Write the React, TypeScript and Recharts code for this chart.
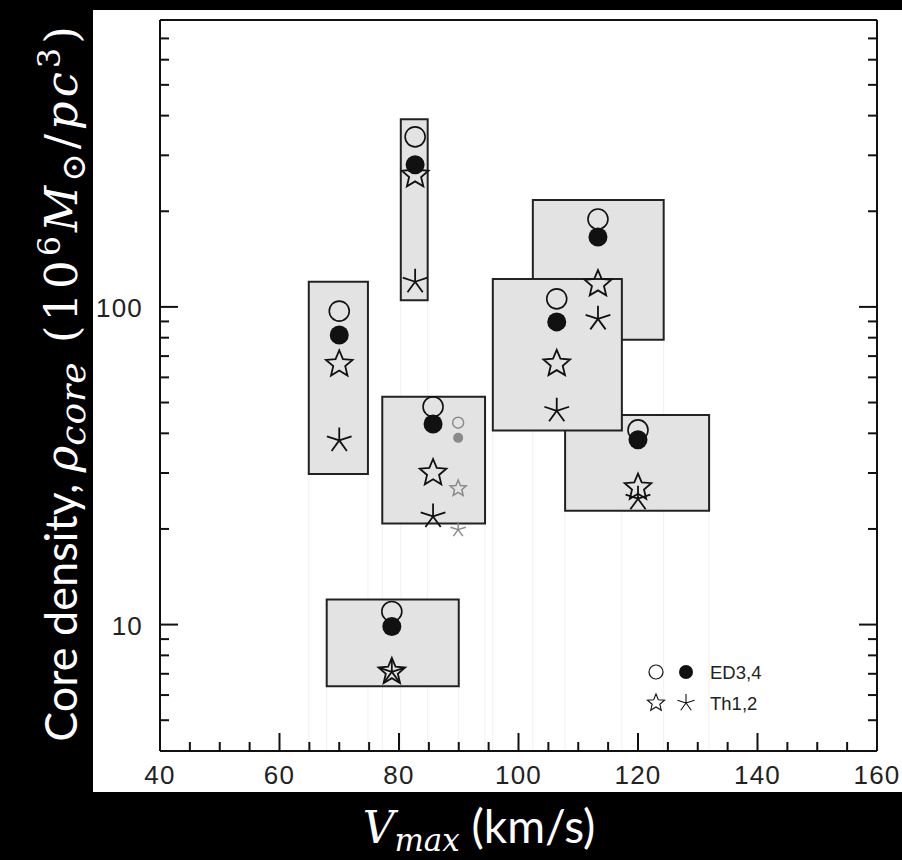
import React from "react";
import {
  ScatterChart,
  Scatter,
  XAxis,
  YAxis,
  ReferenceArea,
  Legend,
} from "recharts";

// galaxy estimates: Vmax (km/s) and core density for each method
const vmax = [70, 82.7, 85.7, 106.4, 113.3, 120, 78.8];
const rhoED3 = [97, 343, 48.5, 106, 189, 41, 11];
const rhoED4 = [81.6, 280, 42.8, 89.7, 166, 38.2, 9.86];
const rhoTh1 = [66, 260, 30, 66.2, 118, 27, 7.1];
const rhoTh2 = [38, 120, 21.9, 47.1, 91.7, 24.9, 7.1];

// alternative estimate for one galaxy (grey markers)
const vmaxAlt = [89.9];
const rhoED3Alt = [43.2];
const rhoED4Alt = [38.7];
const rhoTh1Alt = [26.8];
const rhoTh2Alt = [19.9];

// uncertainty boxes, listed in drawing order
const boxVLo = [64.9, 80.3, 102.4, 107.8, 95.7, 77.2, 67.9];
const boxVHi = [74.8, 84.8, 124.3, 131.9, 117.3, 94.4, 90];
const boxRhoLo = [29.8, 105, 78.8, 22.8, 40.8, 20.8, 6.4];
const boxRhoHi = [120, 390, 217, 45.7, 122.5, 52.1, 12];

const xTicks = [40, 45, 50, 55, 60, 65, 70, 75, 80, 85, 90, 95, 100, 105, 110, 115, 120, 125, 130, 135, 140, 145, 150, 155, 160];
const xLabels = [40, 60, 80, 100, 120, 140, 160];
const yTicks = [5, 6, 7, 8, 9, 10, 20, 30, 40, 50, 60, 70, 80, 90, 100, 200, 300, 400, 500, 600, 700];
const yLabels = [10, 100];

const INK = "#111";
const GREY = "#8a8a8a";
const tickFont = "'Liberation Sans', Arial, sans-serif";

// plot frame edges (chart margins + axis sizes)
const PLOT_LEFT = 160;
const PLOT_RIGHT = 877;
const PLOT_TOP = 20;
const PLOT_BOTTOM = 751;

const toPoints = (xs: number[], ys: number[]) => xs.map((v, i) => ({ v, rho: ys[i] }));

function starPath(cx: number, cy: number, R: number, r: number) {
  let d = "";
  for (let i = 0; i < 10; i++) {
    const a = -Math.PI / 2 + (i * Math.PI) / 5;
    const rad = i % 2 === 0 ? R : r;
    d += (i === 0 ? "M" : "L") + (cx + rad * Math.cos(a)).toFixed(2) + "," + (cy + rad * Math.sin(a)).toFixed(2);
  }
  return d + "Z";
}

function asteriskPath(cx: number, cy: number, R: number) {
  let d = "";
  for (let i = 0; i < 5; i++) {
    const a = -Math.PI / 2 + (i * 2 * Math.PI) / 5;
    d += `M${cx},${cy}L${(cx + R * Math.cos(a)).toFixed(2)},${(cy + R * Math.sin(a)).toFixed(2)}`;
  }
  return d;
}

const openCircle = (r: number, color: string, sw: number) => (p: any) =>
  <circle cx={p.cx} cy={p.cy} r={r} fill="none" stroke={color} strokeWidth={sw} />;
const filledCircle = (r: number, color: string) => (p: any) =>
  <circle cx={p.cx} cy={p.cy} r={r} fill={color} />;
const openStar = (R: number, color: string, sw: number) => (p: any) =>
  <path d={starPath(p.cx, p.cy, R, R * 0.45)} fill="none" stroke={color} strokeWidth={sw} />;
const asterisk = (R: number, color: string, sw: number) => (p: any) =>
  <path d={asteriskPath(p.cx, p.cy, R)} fill="none" stroke={color} strokeWidth={sw} />;

const BottomTick = (p: any) => {
  const major = xLabels.includes(p.payload.value);
  return (
    <g>
      <line x1={p.x} x2={p.x} y1={PLOT_BOTTOM} y2={PLOT_BOTTOM - (major ? 18 : 9)} stroke={INK} strokeWidth={2} />
      {major && (
        <text x={p.x} y={PLOT_BOTTOM + 33} textAnchor="middle" fontSize={26} letterSpacing={1.2} fontFamily={tickFont} fill="#222">
          {p.payload.value}
        </text>
      )}
    </g>
  );
};

const TopTick = (p: any) => {
  const major = xLabels.includes(p.payload.value);
  return <line x1={p.x} x2={p.x} y1={PLOT_TOP} y2={PLOT_TOP + (major ? 18 : 9)} stroke={INK} strokeWidth={2} />;
};

const LeftTick = (p: any) => {
  const major = yLabels.includes(p.payload.value);
  return (
    <g>
      <line x1={PLOT_LEFT} x2={PLOT_LEFT + (major ? 18 : 9)} y1={p.y} y2={p.y} stroke={INK} strokeWidth={2} />
      {major && (
        <text x={PLOT_LEFT - 17} y={p.y + 10} textAnchor="end" fontSize={26} letterSpacing={1.2} fontFamily={tickFont} fill="#222">
          {p.payload.value}
        </text>
      )}
    </g>
  );
};

const RightTick = (p: any) => {
  const major = yLabels.includes(p.payload.value);
  return <line x1={PLOT_RIGHT} x2={PLOT_RIGHT - (major ? 18 : 9)} y1={p.y} y2={p.y} stroke={INK} strokeWidth={2} />;
};

const LegendBox = () => (
  <svg width={140} height={64} style={{ display: "block", overflow: "visible" }}>
    <circle cx={16} cy={17} r={7} fill="none" stroke={INK} strokeWidth={1.2} />
    <circle cx={46} cy={17} r={7} fill={INK} />
    <text x={70} y={24} fontSize={18.5} fontFamily={tickFont} fill="#222">ED3,4</text>
    <path d={starPath(16, 48, 9, 4)} fill="none" stroke={INK} strokeWidth={1.1} />
    <path d={asteriskPath(46, 48, 9)} fill="none" stroke={INK} strokeWidth={1.1} />
    <text x={70} y={55} fontSize={18.5} fontFamily={tickFont} fill="#222">Th1,2</text>
  </svg>
);

export default function App() {
  const serif = "'DejaVu Serif', 'Liberation Serif', serif";
  const sans = "Lato, 'Open Sans', sans-serif";
  return (
    <div style={{ position: "absolute", left: 0, top: 0, width: 902, height: 860, background: "#000", overflow: "hidden" }}>
      <div style={{ position: "absolute", left: 93, top: 10, width: 809, height: 782, background: "#fff" }} />
      <div style={{ position: "absolute", left: 0, top: 0 }}>
        <ScatterChart width={902} height={860} margin={{ top: 19, right: 24, bottom: 69, left: 100 }}>
          <XAxis
            dataKey="v"
            type="number"
            domain={[40, 160]}
            ticks={xTicks}
            interval={0}
            height={40}
            tickLine={false}
            tick={<BottomTick />}
            axisLine={{ stroke: INK, strokeWidth: 2 }}
            allowDataOverflow
          />
          <XAxis
            xAxisId="top"
            orientation="top"
            type="number"
            domain={[40, 160]}
            ticks={xTicks}
            interval={0}
            height={1}
            tickLine={false}
            tick={<TopTick />}
            axisLine={{ stroke: INK, strokeWidth: 2 }}
            allowDataOverflow
          />
          <YAxis
            dataKey="rho"
            type="number"
            scale="log"
            domain={[4, 800]}
            ticks={yTicks}
            interval={0}
            width={60}
            tickLine={false}
            tick={<LeftTick />}
            axisLine={{ stroke: INK, strokeWidth: 2 }}
            allowDataOverflow
          />
          <YAxis
            yAxisId="right"
            orientation="right"
            type="number"
            scale="log"
            domain={[4, 800]}
            ticks={yTicks}
            interval={0}
            width={1}
            tickLine={false}
            tick={<RightTick />}
            axisLine={{ stroke: INK, strokeWidth: 2 }}
            allowDataOverflow
          />

          {/* faint edge guides below the boxes */}
          {boxVLo.flatMap((lo, i) =>
            [lo, boxVHi[i]].map((edge, k) => (
              <ReferenceArea
                key={`guide-${i}-${k}`}
                x1={edge - 0.08}
                x2={edge + 0.08}
                y1={4}
                y2={boxRhoLo[i]}
                fill="#f0f0f0"
                fillOpacity={1}
                stroke="none"
              />
            ))
          )}

          {boxVLo.map((lo, i) => (
            <ReferenceArea
              key={`box-${i}`}
              x1={lo}
              x2={boxVHi[i]}
              y1={boxRhoLo[i]}
              y2={boxRhoHi[i]}
              fill="#e3e3e3"
              fillOpacity={1}
              stroke="#222"
              strokeWidth={2}
            />
          ))}

          <Scatter data={toPoints(vmaxAlt, rhoED3Alt)} shape={openCircle(5.5, GREY, 1.5)} isAnimationActive={false} />
          <Scatter data={toPoints(vmaxAlt, rhoED4Alt)} shape={filledCircle(5, GREY)} isAnimationActive={false} />
          <Scatter data={toPoints(vmaxAlt, rhoTh1Alt)} shape={openStar(8.5, GREY, 1.5)} isAnimationActive={false} />
          <Scatter data={toPoints(vmaxAlt, rhoTh2Alt)} shape={asterisk(8, GREY, 1.5)} isAnimationActive={false} />

          <Scatter data={toPoints(vmax, rhoED3)} shape={openCircle(10, INK, 1.6)} isAnimationActive={false} />
          <Scatter data={toPoints(vmax, rhoED4)} shape={filledCircle(9.5, INK)} isAnimationActive={false} />
          <Scatter data={toPoints(vmax, rhoTh1)} shape={openStar(14, INK, 1.8)} isAnimationActive={false} />
          <Scatter data={toPoints(vmax, rhoTh2)} shape={asterisk(13, INK, 1.8)} isAnimationActive={false} />

          <Legend
            layout="horizontal"
            verticalAlign="middle"
            align="center"
            content={<LegendBox />}
            wrapperStyle={{ left: 640, top: 655, width: 140, height: 64 }}
          />
        </ScatterChart>
      </div>
      <svg width={902} height={860} style={{ position: "absolute", left: 0, top: 0, pointerEvents: "none" }}>
        <text transform="translate(77,384) rotate(-90)" textAnchor="middle" fill="#fff" fontSize={45}>
          <tspan fontFamily={sans} fontSize={45}>Core density, </tspan>
          <tspan fontFamily={serif} fontStyle="italic">ρ</tspan>
          <tspan fontFamily={serif} fontStyle="italic" fontSize={36} letterSpacing={1} dy={8}>core</tspan>
          <tspan fontFamily={serif} letterSpacing={4} dy={-8}> (10</tspan>
          <tspan fontFamily={serif} fontSize={32} letterSpacing={4} dy={-17}>6</tspan>
          <tspan fontFamily={serif} fontStyle="italic" letterSpacing={4} dy={17}>M</tspan>
          <tspan fontFamily={serif} fontSize={34} letterSpacing={4} dy={8}>⊙</tspan>
          <tspan fontFamily={serif} letterSpacing={4} dy={-8}>/</tspan>
          <tspan fontFamily={serif} fontStyle="italic" letterSpacing={4}>pc</tspan>
          <tspan fontFamily={serif} fontSize={32} letterSpacing={4} dy={-17}>3</tspan>
          <tspan fontFamily={serif} dy={17}>)</tspan>
        </text>
        <text x={479} y={843} textAnchor="middle" fill="#fff" fontSize={44}>
          <tspan fontFamily={serif} fontStyle="italic">V</tspan>
          <tspan fontFamily={serif} fontStyle="italic" fontSize={31} dy={8}>max</tspan>
          <tspan fontFamily={sans} fontSize={46} dy={-8}> (km/s)</tspan>
        </text>
      </svg>
    </div>
  );
}
